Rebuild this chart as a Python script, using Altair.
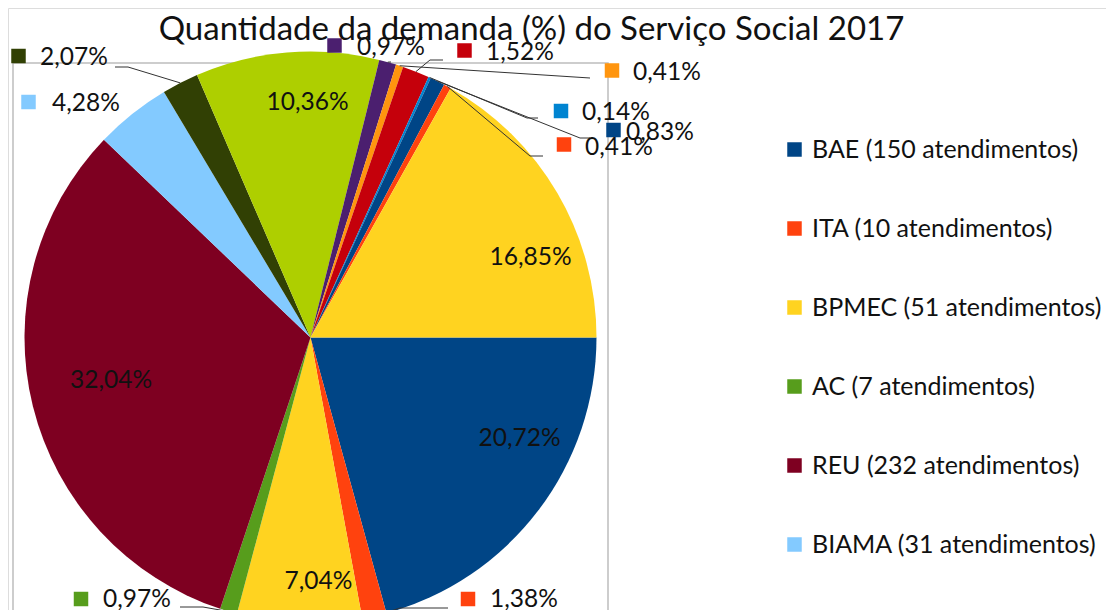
import math
import altair as alt
import pandas as pd

# ---------------- data ----------------
categories = [
    "BAE (150 atendimentos)", "ITA (10 atendimentos)", "BPMEC (51 atendimentos)",
    "AC (7 atendimentos)", "REU (232 atendimentos)", "BIAMA (31 atendimentos)",
    "Série 7", "Série 8", "Série 9", "Série 10", "Série 11", "Série 12",
    "Série 13", "Série 14", "Série 15",
]
percentages = [20.72, 1.38, 7.04, 0.97, 32.04, 4.28, 2.07, 10.36,
               0.97, 0.41, 1.52, 0.14, 0.83, 0.41, 16.85]
palette = ["#004586", "#ff420e", "#ffd320", "#579d1c", "#7e0021", "#83caff",
           "#314004", "#aecf00", "#4b1f6f", "#ff950e", "#c5000b", "#0084d1",
           "#004586", "#ff420e", "#ffd320"]
legend_entries = categories[:6]
title_text = "Quantidade da demanda (%) do Serviço Social 2017"

# ---------------- layout ----------------
W, H = 1098, 602
CX, CY, R = 302.5, 329.5, 286
FONT = "Lato"

# labels drawn inside their slices: slice index -> (x centre, baseline)
inside_place = {0: (511.5, 438), 2: (310.5, 581), 4: (103, 380),
                7: (299.5, 102), 14: (522.5, 257)}
# call-outs: slice index -> (square x, square y, text left, baseline, leader elbow points)
callout_place = {
    6: (10.5, 48, 32, 57, [(120, 59), (107, 59)]),
    5: (20.5, 94, 44, 103, []),
    8: (326.5, 37.5, 349, 47, [(383, 54)]),
    10: (456.5, 42.5, 478, 52, [(422, 52), (435, 52)]),
    9: (604, 62.5, 625, 72, [(582, 70)]),
    11: (553, 103, 574, 112, [(519, 110), (530, 110)]),
    12: (605.5, 122, 618, 132, [(572, 130), (582, 130)]),
    13: (556, 136.5, 577, 147, [(522, 148), (535, 148)]),
    3: (73, 591, 95, 599, [(195, 599), (172, 599)]),
    1: (460, 591, 482, 599, [(392, 600), (440, 600)]),
}

def fmt(v):
    return f"{v:.2f}".replace(".", ",") + "%"

total = sum(percentages)
df = pd.DataFrame({"cat": categories, "pct": percentages,
                   "idx": list(range(len(categories)))})
df["label"] = [fmt(v) for v in percentages]

# mid angle of each slice (same mapping as the theta scale below)
mid_angles = []
acc = 0.0
for v in percentages:
    mid_angles.append(math.pi / 2 + 2 * math.pi * (acc + v / 2) / total)
    acc += v

inside_df = pd.DataFrame([
    {"x": inside_place[i][0], "y": inside_place[i][1], "label": df.label[i]}
    for i in inside_place
])

sq_rows, txt_rows, seg_rows = [], [], []
for i, (sx, sy, tx, ty, elbows) in callout_place.items():
    sq_rows.append({"x": sx, "y": sy, "cat": categories[i]})
    txt_rows.append({"x": tx, "y": ty, "label": df.label[i]})
    if elbows:
        a = mid_angles[i]
        pts = [(CX + R * math.sin(a), CY - R * math.cos(a))] + elbows
        for (x1, y1), (x2, y2) in zip(pts[:-1], pts[1:]):
            seg_rows.append({"x": x1, "y": y1, "x2": x2, "y2": y2})
sq_df = pd.DataFrame(sq_rows)
txt_df = pd.DataFrame(txt_rows)
seg_df = pd.DataFrame(seg_rows)

legend = alt.Legend(
    title=None, orient="none", legendX=774, legendY=129, values=legend_entries,
    symbolType="square", symbolSize=210, symbolStrokeWidth=0, symbolOpacity=1,
    labelFont=FONT, labelFontSize=25, labelColor="#111111", labelLimit=500,
    labelOffset=5, rowPadding=53, padding=0, direction="vertical",
)
color_scale = alt.Scale(domain=categories, range=palette)

frame = alt.Chart(pd.DataFrame({"k": [0]})).mark_rect(
    fillOpacity=0, stroke="#bdbdbd", strokeWidth=1.5
).encode(x=alt.value(5), x2=alt.value(600), y=alt.value(55), y2=alt.value(640))

pie = alt.Chart(df).mark_arc(outerRadius=R, stroke=None).encode(
    theta=alt.Theta("pct:Q", stack=True,
                    scale=alt.Scale(range=[math.pi / 2, math.pi / 2 + 2 * math.pi])),
    color=alt.Color("cat:N", scale=color_scale, legend=legend),
    order=alt.Order("idx:Q"),
    x=alt.value(CX), y=alt.value(CY),
)

leaders = alt.Chart(seg_df).mark_rule(color="#333333", strokeWidth=1).encode(
    x=alt.X("x:Q", scale=None), y=alt.Y("y:Q", scale=None),
    x2="x2:Q", y2="y2:Q",
)

squares = alt.Chart(sq_df).mark_square(size=210, opacity=1).encode(
    x=alt.X("x:Q", scale=None), y=alt.Y("y:Q", scale=None),
    color=alt.Color("cat:N", scale=color_scale, legend=legend),
)

callout_text = alt.Chart(txt_df).mark_text(
    align="left", baseline="alphabetic", font=FONT, fontSize=24.5, color="#111111"
).encode(x=alt.X("x:Q", scale=None), y=alt.Y("y:Q", scale=None), text="label:N")

inside_text = alt.Chart(inside_df).mark_text(
    align="center", baseline="alphabetic", font=FONT, fontSize=24.5, color="#111111"
).encode(x=alt.X("x:Q", scale=None), y=alt.Y("y:Q", scale=None), text="label:N")

title = alt.Chart(pd.DataFrame({"t": [title_text]})).mark_text(
    align="center", baseline="alphabetic", font=FONT, fontSize=33, color="#111111"
).encode(x=alt.value(523.5), y=alt.value(32), text="t:N")

chart = alt.layer(frame, pie, leaders, squares, callout_text, inside_text, title).properties(
    width=W, height=H, padding=0, autosize=alt.AutoSizeParams(type="none")
).configure_view(stroke=None).configure(background="white")

chart.save("out.html", embed_options={"renderer": "svg", "actions": False})
